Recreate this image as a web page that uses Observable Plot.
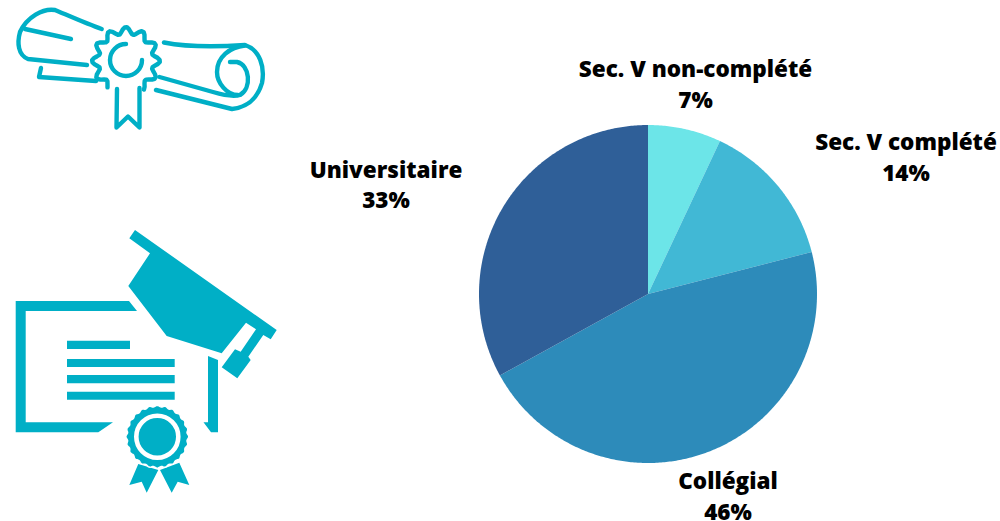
<!DOCTYPE html>
<html><head><meta charset="utf-8">
<script src="https://cdn.jsdelivr.net/npm/d3@7"></script>
<script src="https://cdn.jsdelivr.net/npm/@observablehq/plot@0.6"></script>
<style>html,body{margin:0;padding:0;background:#fff}svg{display:block}</style>
</head><body><div id="chart"></div>
<script>
const categories = ["Sec. V non-complété", "Sec. V complété", "Collégial", "Universitaire"];
const shares = [7, 14, 46, 33];
const sliceColors = ["#6CE5E8", "#41B8D5", "#2D8BBA", "#2F5F98"];
const labelCentres = [[695, 82], [905.5, 155], [727.5, 494], [385.5, 182.5]];

const ICON = "#00AFC6";
const total = d3.sum(shares);
let running = 0;
const slices = [];
categories.forEach((category, i) => {
  const start = running / total * 2 * Math.PI;
  running += shares[i];
  const end = running / total * 2 * Math.PI;
  const steps = Math.ceil((end - start) / 0.01);
  for (let k = 0; k <= steps; k++) {
    const a = start + (end - start) * k / steps;
    slices.push({category, cx: 0, cy: 0, ax: Math.sin(a), ay: Math.cos(a)});
  }
});

function scallop(cx, cy, r0, r1, n, from, to) {
  const pts = [];
  const steps = Math.round(n * 8 * (to - from) / 360);
  for (let k = 0; k <= steps; k++) {
    const deg = from + (to - from) * k / steps;
    const a = deg * Math.PI / 180;
    const r = r0 + (r1 - r0) * (0.5 + 0.5 * Math.cos(a * n));
    pts.push([cx + r * Math.sin(a), cy - r * Math.cos(a)]);
  }
  return "M" + pts.map(p => p[0].toFixed(1) + "," + p[1].toFixed(1)).join("L");
}

const icons = () => {
  const g = d3.create("svg:g");
  const scroll = g.append("g").attr("fill", "none").attr("stroke", ICON).attr("stroke-width", 4.4)
    .attr("stroke-linecap", "round").attr("stroke-linejoin", "round");
  [
    "M101.7,29 C87,24 67,15 55,10 C43,8 27,17 20,32 C17,43 18,55 28,59 L87,65",
    "M25,29 L71,39",
    "M41,68 L39,77 L96,81",
    "M117,89 L116.5,127.5 L128,116.5 L139.5,127.5 L139.5,88",
    "M164,42.5 C187,47 217,47 245,45 C260,50 265,67 262,83 C257,100 247,107 232,109 L156,90",
    "M159.5,77 L213,92 C223,95 233,97 240,95 C252,88 250,65 237,62 L230,62",
    "M245,45.5 C230,47 217,57 217,72 C217,83 227,95 238,95",
    "M126,44 A16,16 0 1 0 142,60"
  ].forEach(d => scroll.append("path").attr("d", d));
  scroll.append("path").attr("d", scallop(126, 61, 27, 34, 12, -145, 148));

  const solid = g.append("g").attr("fill", ICON);
  [
    "M135,230 L276.7,330 L270.7,339.3 L263.3,335 L248.3,356.7 L250.7,360 L237.3,378.3 L221.7,367.3 L235,349.3 L240.7,351.7 L256,329.3 L246,322.7 L221.7,353.3 L166.7,336 L128.3,286 L150,253.3 L129.3,238.3 Z",
    "M15.7,301 L129,301 L137,311 L25.7,311 L25.7,422.3 L113,422.3 L98.3,432.3 L15.7,432.3 Z",
    "M208,356 L218,360 L218,432.3 L211,432.3 L203.5,422.3 L208,422.3 Z",
    "M67,340.7 H130 V349 H67 Z",
    "M67,359 H174.7 V367 H67 Z",
    "M67,375 H174.7 V383.3 H67 Z",
    "M67,391.7 H174.7 V399.7 H67 Z",
    "M138.3,464 L129.3,485 L141.7,481.7 L146.7,492.7 L158.3,470 Z",
    "M160,470 L171.7,492.7 L177.7,481.7 L189.3,485 L179.3,462.7 Z"
  ].forEach(d => solid.append("path").attr("d", d));
  g.append("path").attr("d", scallop(157.3, 436.7, 30, 31.5, 24, 0, 360) + "Z")
    .attr("fill", ICON).attr("stroke", "#fff").attr("stroke-width", 1.5);
  g.append("circle").attr("cx", 157.3).attr("cy", 436.7).attr("r", 21).attr("fill", "none")
    .attr("stroke", "#fff").attr("stroke-width", 4.6);
  return g.node();
};

const labelMarks = categories.map((category, i) => Plot.text([category + "\n" + shares[i] + "%"], {
  text: d => d,
  frameAnchor: "top-left",
  dx: labelCentres[i][0],
  dy: labelCentres[i][1],
  textAnchor: "middle",
  lineAnchor: "middle",
  lineHeight: 1.36,
  fontSize: 22.5,
  fontWeight: 800,
  fontFamily: "'Open Sans'",
  fill: "#000"
}));

const chart = Plot.plot({
  width: 1000,
  height: 521,
  margin: 0,
  style: {background: "#fff"},
  x: {domain: [-1, 1], range: [479, 817], axis: null},
  y: {domain: [-1, 1], range: [463, 125], axis: null},
  color: {domain: categories, range: sliceColors},
  marks: [
    icons,
    Plot.area(slices, {x1: "cx", y1: "cy", x2: "ax", y2: "ay", fill: "category", z: "category"}),
    ...labelMarks
  ]
});
document.getElementById("chart").appendChild(chart);
</script></body></html>
